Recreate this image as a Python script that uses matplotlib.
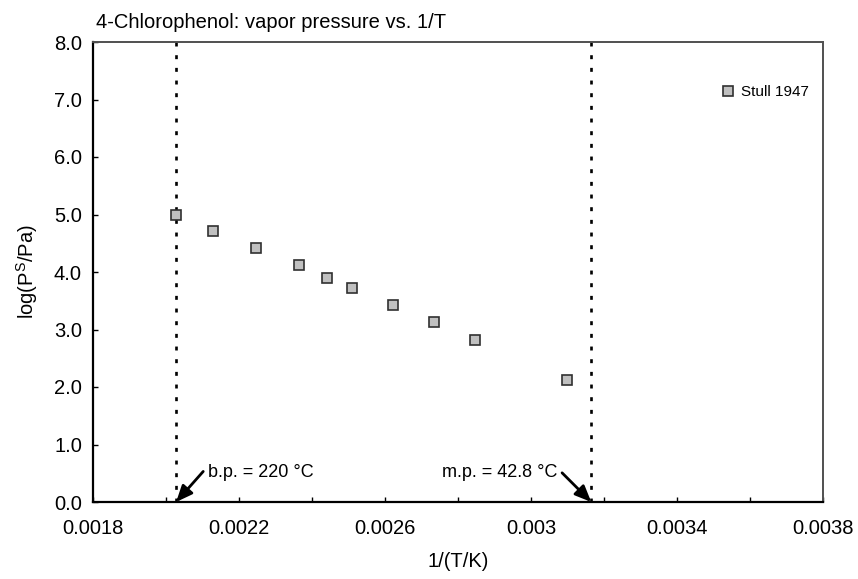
import matplotlib
matplotlib.use('Agg')
import matplotlib.pyplot as plt
from matplotlib.ticker import FixedLocator, FormatStrFormatter, MultipleLocator

plt.rcParams['font.family'] = ['Liberation Sans', 'DejaVu Sans']

# Stull 1947 data
inv_T = [0.002027, 0.002130, 0.002246, 0.002364, 0.002442,
         0.002510, 0.002621, 0.002734, 0.002847, 0.003100]
log_p = [5.00, 4.72, 4.42, 4.12, 3.90, 3.72, 3.42, 3.13, 2.82, 2.12]

x_ticks = [0.0018, 0.0022, 0.0026, 0.0030, 0.0034, 0.0038]
x_tick_labels = ['0.0018', '0.0022', '0.0026', '0.003', '0.0034', '0.0038']
x_minor = [0.0020, 0.0024, 0.0028, 0.0032, 0.0036]

bp_C = 220.0
mp_C = 42.8
bp_x = 1 / (bp_C + 273.15)
mp_x = 1 / (mp_C + 273.15)

fig = plt.figure(figsize=(8.58, 5.79), dpi=100)
ax = fig.add_axes([93/858, 77/579, 730/858, 460/579])

ax.plot(inv_T, log_p, linestyle='none', marker='s', markersize=6.5,
        markerfacecolor='#c0c0c0', markeredgecolor='#303030',
        markeredgewidth=1.2, label='Stull 1947', zorder=3)

for xv in (bp_x, mp_x):
    ax.axvline(xv, color='black', lw=1.9, dashes=(1.5, 3.3), zorder=2)

ax.set_xlim(0.0018, 0.0038)
ax.set_ylim(0, 8)
ax.set_xticks(x_ticks)
ax.set_xticklabels(x_tick_labels)
ax.xaxis.set_minor_locator(FixedLocator(x_minor))
ax.yaxis.set_major_locator(MultipleLocator(1.0))
ax.yaxis.set_major_formatter(FormatStrFormatter('%.1f'))

ax.tick_params(which='both', direction='in', length=3.6, width=1,
               labelsize=14.5, colors='black')
ax.tick_params(axis='x', pad=12)
ax.tick_params(axis='y', pad=8)

for s in ('left', 'bottom'):
    ax.spines[s].set_color('black')
    ax.spines[s].set_linewidth(1.6)
for s in ('top', 'right'):
    ax.spines[s].set_color('#505050')
    ax.spines[s].set_linewidth(1.4)

ax.set_xlabel('1/(T/K)', fontsize=14.5, labelpad=10)
ax.set_ylabel('log(P$^\\mathregular{S}$/Pa)', fontsize=14.5, labelpad=10)

fig.text(96/858, 1 - 28/579, '4-Chlorophenol: vapor pressure vs. 1/T',
         fontsize=14.5, ha='left', va='baseline')

arrow = dict(arrowstyle='-|>,head_length=0.7,head_width=0.3', color='black',
             lw=2, shrinkA=0, shrinkB=0, mutation_scale=14)
ax.annotate('', xy=(bp_x, 0), xytext=(19.5, 22), textcoords='offset points',
            arrowprops=arrow)
ax.annotate('b.p. = 220 °C', xy=(bp_x, 0), xytext=(23, 21),
            textcoords='offset points', ha='left', va='center', fontsize=13)
ax.annotate('', xy=(mp_x, 0), xytext=(-21, 21), textcoords='offset points',
            arrowprops=arrow)
ax.annotate('m.p. = 42.8 °C', xy=(mp_x, 0), xytext=(-24.5, 21),
            textcoords='offset points', ha='right', va='center', fontsize=13)

ax.legend(loc='center right', bbox_to_anchor=(0.98, 410/460), frameon=False,
          fontsize=11, borderaxespad=0, borderpad=0, handlelength=0.8,
          handletextpad=0.4, markerscale=1.0)

fig.savefig('out.png', dpi=100)
